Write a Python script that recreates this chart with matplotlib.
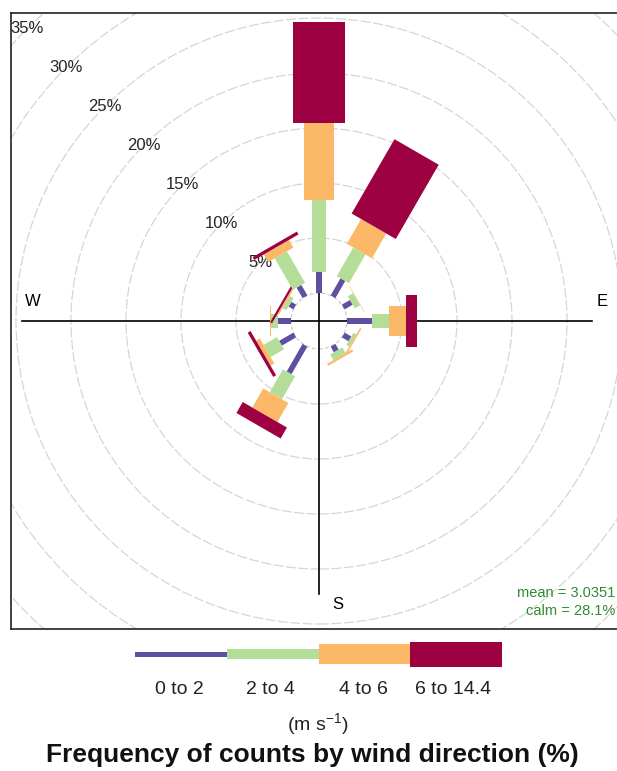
import numpy as np
import matplotlib
matplotlib.use("Agg")
import matplotlib.pyplot as plt
from matplotlib.patches import Polygon, Circle, Rectangle

plt.rcParams['font.family'] = ['Liberation Sans', 'DejaVu Sans']
plt.rcParams['mathtext.default'] = 'regular'

# 风向 (度, 北=0, 顺时针)
directions = [0, 30, 60, 90, 120, 150, 180, 210, 240, 270, 300, 330]
# 各风速区间的频率 (%)
pct_0_2 = [1.9, 1.8, 0.85, 2.3, 0.7, 0.6, 0.0, 2.9, 1.5, 1.2, 0.5, 1.1]
pct_2_4 = [6.55, 3.0, 0.55, 1.5, 0.3, 0.6, 0.0, 2.4, 1.4, 0.6, 0.4, 3.3]
pct_4_6 = [7.05, 2.6, 0.05, 1.6, 0.15, 0.2, 0.0, 2.0, 0.4, 0.15, 0.15, 0.8]
pct_6_14 = [9.1, 7.8, 0.0, 1.0, 0.0, 0.0, 0.0, 1.15, 0.3, 0.0, 0.2, 0.3]
speed_labels = ['0 to 2', '2 to 4', '4 to 6', '6 to 14.4']
ring_levels = [5, 10, 15, 20, 25, 30, 35]
mean_ws = 3.0351
calm_pct = 28.1

colours = ['#5e4fa2', '#b4de98', '#fbb968', '#9e0142']
half_w = [0.25, 0.64, 1.32, 2.32]   # paddle half width (data units)
offset = 28 / 11.0                  # calm circle radius

W, H = 617, 771
fig = plt.figure(figsize=(W / 100, H / 100), dpi=100)
fig.patch.set_facecolor('white')

# 主图坐标轴, 1 data unit = 11 px
ax = fig.add_axes([11 / W, 1 - 629 / H, 616 / W, 616 / H])
ax.set_xlim(-28, 28)
ax.set_ylim(-28, 28)
ax.set_aspect('equal')
ax.set_xticks([])
ax.set_yticks([])
for s in ax.spines.values():
    s.set_linewidth(1.2)
    s.set_color('#222222')

# 网格圆
ax.add_patch(Circle((0, 0), offset, fill=False, ec='#cccccc', lw=0.9, ls=(0, (3, 2))))
for lv in ring_levels:
    r = offset + lv
    ax.add_patch(Circle((0, 0), r, fill=False, ec='#d6d6d6', lw=0.9, ls=(0, (8, 2))))
    ax.text(-r * np.sin(np.pi / 4), r * np.cos(np.pi / 4), '%d%%' % lv,
            ha='center', va='center', fontsize=12, color='#262626', clip_on=True, zorder=2)

# 坐标轴线
ax.plot([-27, 24.8], [0, 0], color='black', lw=1.2, zorder=3)
ax.plot([0, 0], [-24.8, 26], color='black', lw=1.2, zorder=3)
ax.text(-26, 1.8, 'W', ha='center', va='center', fontsize=12, zorder=3)
ax.text(25.7, 1.8, 'E', ha='center', va='center', fontsize=12, zorder=3)
ax.text(1.7, -25.8, 'S', ha='center', va='center', fontsize=12, zorder=3)
ax.text(1.7, 25.8, 'N', ha='center', va='center', fontsize=12, zorder=3)

# 桨叶
bins = [pct_0_2, pct_2_4, pct_4_6, pct_6_14]
for i, wd in enumerate(directions):
    th = np.deg2rad(wd)
    start = 0.0
    for j in range(4):
        end = start + bins[j][i]
        if end > start:
            r1, r2, hw = offset + start, offset + end, half_w[j]
            pts = [(r1 * np.sin(th) - hw * np.cos(th), r1 * np.cos(th) + hw * np.sin(th)),
                   (r1 * np.sin(th) + hw * np.cos(th), r1 * np.cos(th) - hw * np.sin(th)),
                   (r2 * np.sin(th) + hw * np.cos(th), r2 * np.cos(th) - hw * np.sin(th)),
                   (r2 * np.sin(th) - hw * np.cos(th), r2 * np.cos(th) + hw * np.sin(th))]
            ax.add_patch(Polygon(pts, closed=True, fc=colours[j], ec='none', zorder=5))
        start = end

fig.text(615 / W, 1 - 593 / H, 'mean = %.4f' % mean_ws, ha='right', va='center',
         fontsize=10.5, color='#2e8b2e')
fig.text(615 / W, 1 - 611 / H, 'calm = %.1f%%' % calm_pct, ha='right', va='center',
         fontsize=10.5, color='#2e8b2e')

# 图例
lax = fig.add_axes([135 / W, 1 - 667 / H, 367 / W, 26 / H])
lax.set_xlim(0, 4)
lax.set_ylim(-13, 13)
lax.axis('off')
heights = [5, 10, 20, 25]
for j in range(4):
    lax.add_patch(Rectangle((j, -heights[j] / 2), 1, heights[j], fc=colours[j], ec='none'))
label_x = [179, 270, 363, 453]
for j in range(4):
    fig.text(label_x[j] / W, 1 - 690 / H, speed_labels[j],
             ha='center', va='center', fontsize=14, color='#222222')
fig.text(318 / W, 1 - 724 / H, '(m s$^{-1}$)', ha='center', va='center', fontsize=14, color='#222222')
fig.text(312 / W, 1 - 755 / H, 'Frequency of counts by wind direction (%)', ha='center', va='center',
         fontsize=19, fontweight='bold', color='#111111')

fig.savefig('out.png', dpi=100, facecolor='white')
